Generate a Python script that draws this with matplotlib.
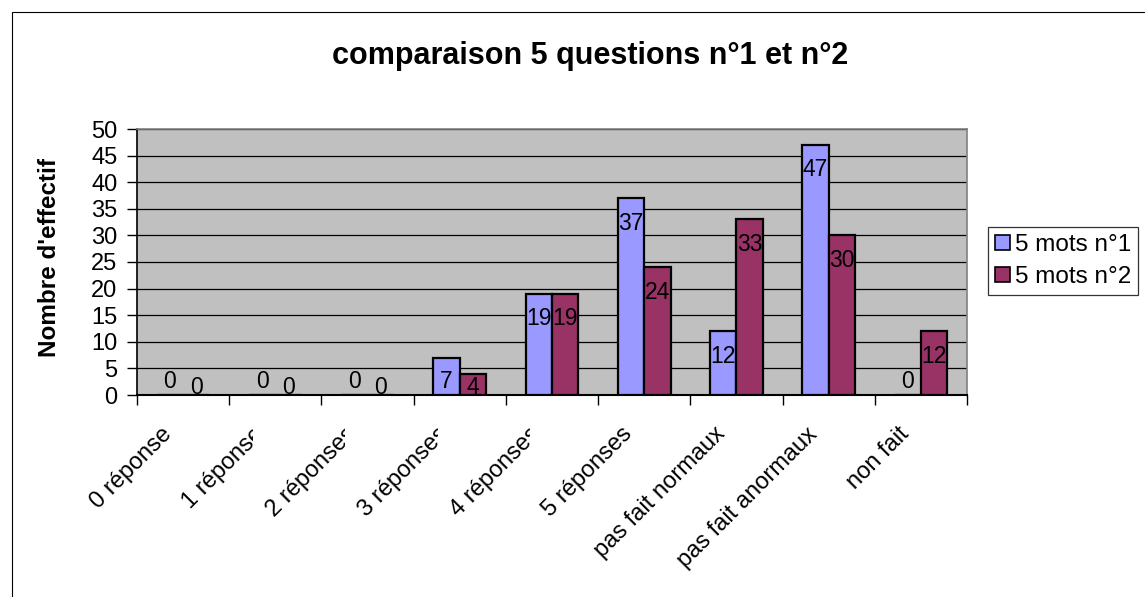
import matplotlib
matplotlib.use("Agg")
import matplotlib.pyplot as plt
import numpy as np
from matplotlib.patches import Rectangle
from matplotlib.transforms import Bbox, TransformedBbox, blended_transform_factory

plt.rcParams['font.family'] = ['Liberation Sans', 'DejaVu Sans']

categories = ["0 réponse", "1 réponse", "2 réponses", "3 réponses", "4 réponses",
              "5 réponses", "pas fait normaux", "pas fait anormaux", "non fait"]
series1 = [0, 0, 0, 7, 19, 37, 12, 47, 0]
series2 = [0, 0, 0, 4, 19, 24, 33, 30, 12]
series_names = ["5 mots n°1", "5 mots n°2"]
yticks = [0, 5, 10, 15, 20, 25, 30, 35, 40, 45, 50]
title = "comparaison 5 questions n°1 et n°2"
ylabel = "Nombre d'effectif"

W, H = 1145, 597
fig = plt.figure(figsize=(W / 100, H / 100), dpi=100)
fig.patch.set_facecolor("white")

# outer chart border
fig.patches.append(Rectangle((12 / W, -0.1), 1.2, 1 - 12 / H + 0.1, transform=fig.transFigure,
                             fill=False, edgecolor="black", linewidth=0.8))

ax = fig.add_axes([137 / W, 1 - 395 / H, (967 - 137) / W, (395 - 129) / H])
ax.set_facecolor("#C0C0C0")

n = len(categories)
x = np.arange(n)
bw = 1 / 3.5
c1, c2 = "#9999FF", "#993366"
ax.bar(x - bw / 2, series1, bw, color=c1, edgecolor="black", linewidth=1.6, zorder=3)
ax.bar(x + bw / 2, series2, bw, color=c2, edgecolor="black", linewidth=1.6, zorder=3)

ax.set_xlim(-0.5, n - 0.5)
ax.set_ylim(0, 50)
ax.set_yticks(yticks)
ax.set_yticklabels([str(t) for t in yticks], fontsize=17)
ax.yaxis.grid(True, color="black", linewidth=0.9, zorder=1)
ax.set_axisbelow(True)
ax.tick_params(axis="y", direction="out", length=7, width=1, pad=7)

ax.set_xticks(np.arange(n + 1) - 0.5)
ax.set_xticklabels([])
ax.tick_params(axis="x", direction="out", length=7, width=1)

for s in ["top", "right"]:
    ax.spines[s].set_color("#808080")
    ax.spines[s].set_linewidth(1.2)
ax.spines["left"].set_color("black")
ax.spines["bottom"].set_color("black")
ax.spines["left"].set_linewidth(1.2)
ax.spines["bottom"].set_linewidth(1.5)

# data labels
px_per_unit = (395 - 129) / 50
for vals, off, floor in ((series1, -bw / 2, 2.6), (series2, bw / 2, 1.5)):
    for i, v in enumerate(vals):
        y = max(v - 25 / px_per_unit, floor)
        ax.text(i + off, y, str(v), ha="center", va="center", fontsize=16.5, zorder=5)

# category labels (rotated, some clipped like the original)
bt = blended_transform_factory(ax.transData, ax.transAxes)
for i, lab in enumerate(categories):
    t = ax.annotate(lab, xy=(i, 0), xycoords=bt, xytext=(-15, -36), textcoords="offset pixels",
                    rotation=45, rotation_mode="anchor", ha="right", va="center",
                    fontsize=17, annotation_clip=False)
    if 1 <= i <= 4:
        t.set_clip_box(TransformedBbox(Bbox([[-10, -5], [i - 0.24, 0]]), bt))
        t.set_clip_on(True)

fig.text(590 / W, 1 - 64 / H, title, ha="center", va="baseline", fontsize=22, fontweight="bold")
fig.text(50 / W, 1 - 257 / H, ylabel, ha="center", va="center", rotation=90,
         fontsize=17.5, fontweight="bold")

h1 = Rectangle((0, 0), 1, 1, facecolor=c1, edgecolor="black", linewidth=1.2)
h2 = Rectangle((0, 0), 1, 1, facecolor=c2, edgecolor="black", linewidth=1.2)
leg = fig.legend([h1, h2], series_names, loc="center left",
                 bbox_to_anchor=(988 / W, 1 - 261 / H), fontsize=17.5,
                 frameon=True, fancybox=False, handlelength=0.6, handleheight=0.6,
                 handletextpad=0.2, borderpad=0.3, labelspacing=0.4, borderaxespad=0)
leg.get_frame().set_edgecolor("black")
leg.get_frame().set_linewidth(0.9)

fig.savefig("out.png", dpi=100)
